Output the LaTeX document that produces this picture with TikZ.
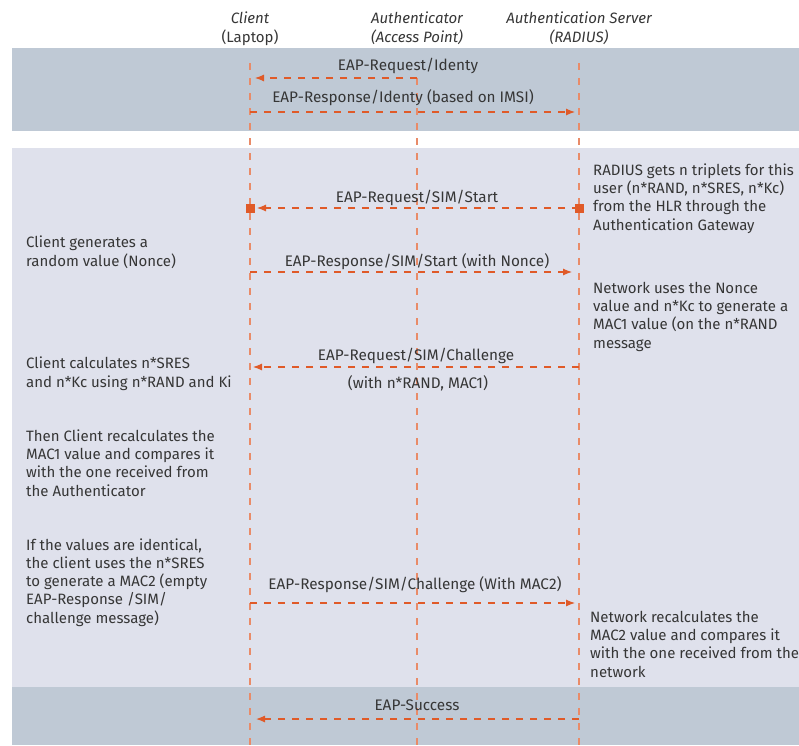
\documentclass[tikz,border=0pt]{standalone}
\usepackage{fontspec}
\setmainfont{Fira Sans}
\usetikzlibrary{arrows.meta}

\definecolor{bandgray}{HTML}{BFC9D5}
\definecolor{bandpale}{HTML}{DFE1EC}
\definecolor{eaporange}{HTML}{E05A28}
\definecolor{textgray}{HTML}{363636}

\tikzset{
	lifeline/.style={draw=eaporange!70, line width=1.3pt, dash pattern=on 7pt off 8pt},
	msg/.style={draw=eaporange, line width=1.1pt, dash pattern=on 7pt off 7pt, -{Latex[length=9pt,width=7pt]}},
	msglabel/.style={font=\fontsize{15.3}{17}\selectfont, text=textgray, inner sep=0pt, anchor=base},
	note/.style={font=\fontsize{15}{18.2}\selectfont, text=textgray, inner sep=0pt, anchor=base west, align=left},
	head/.style={font=\fontsize{15}{17}\selectfont\itshape, text=textgray, inner sep=0pt, anchor=base},
	endsquare/.style={fill=eaporange, minimum size=9pt, inner sep=0pt}
}

\begin{document}
\begin{tikzpicture}[x=1pt, y=-1pt]
	\useasboundingbox (0,0) rectangle (799,745);

	% bands
	\fill[bandgray] (12,48) rectangle (799,131);
	\fill[bandpale] (12,148) rectangle (799,687);
	\fill[bandgray] (12,687) rectangle (799,745);

	% heads
	\node[head] (client) at (250,23) {Client};
	\node[head, font=\fontsize{15}{17}\selectfont] (laptop) at (250,42) {(Laptop)};
	\node[head] (auth) at (417,23) {Authenticator};
	\node[head] (ap) at (417,42) {(Access Point)};
	\node[head] (server) at (579,23) {Authentication Server};
	\node[head] (radius) at (579,42) {(RADIUS)};

	% points on the lifelines
	\foreach \y/\n in {63/top, 78/m1, 112/m2, 208/m3, 272/m4, 367/m5, 603/m6, 719/m7, 745/bot} {
		\coordinate (cl-\n) at (250,\y);
		\coordinate (ap-\n) at (417,\y);
		\coordinate (rs-\n) at (579,\y);
	}

	% lifelines
	\draw[lifeline] (cl-top) -- (cl-bot);
	\draw[lifeline] (ap-m1) -- (ap-bot);
	\draw[lifeline] (rs-top) -- (rs-bot);

	% messages
	\draw[msg, shorten >=5pt] (ap-m1) -- (cl-m1);
	\node[msglabel] at (408,70) {EAP-Request/Identy};

	\draw[msg, shorten >=4pt] (cl-m2) -- (rs-m2);
	\node[msglabel] at (403,102) {EAP-Response/Identy (based on IMSI)};

	\draw[msg, shorten >=7pt] (rs-m3) -- (cl-m3);
	\node[endsquare] (sq1) at (cl-m3) {};
	\node[endsquare] (sq2) at (rs-m3) {};
	\node[msglabel] at (417,202) {EAP-Request/SIM/Start};

	\draw[msg, shorten >=7pt] (cl-m4) -- (rs-m4);
	\node[msglabel] at (417,266) {EAP-Response/SIM/Start (with Nonce)};

	\draw[msg, shorten >=3pt] (rs-m5) -- (cl-m5);
	\node[msglabel] at (416,360) {EAP-Request/SIM/Challenge};
	\node[msglabel] at (418,388) {(with n*RAND, MAC1)};

	\draw[msg, shorten >=4pt] (cl-m6) -- (rs-m6);
	\node[msglabel] at (415,589) {EAP-Response/SIM/Challenge (With MAC2)};

	\draw[msg, shorten >=6pt] (rs-m7) -- (cl-m7);
	\node[msglabel] at (417,710) {EAP-Success};

	% client side notes (placed at the baseline of their last line)
	\node[note] (n1) at (26,266) {Client generates a\\random value (Nonce)};
	\node[note] (n2) at (26,387) {Client calculates n*SRES\\and n*Kc using n*RAND and Ki};
	\node[note] (n3) at (26,496) {Then Client recalculates the\\MAC1 value and compares it\\with the one received from\\the Authenticator};
	\node[note] (n4) at (26,623) {If the values are identical,\\the client uses the n*SRES\\to generate a MAC2 (empty\\EAP-Response /SIM/\\challenge message)};

	% server side notes
	\node[note] (n5) at (593,230) {RADIUS gets n triplets for this\\user (n*RAND, n*SRES, n*Kc)\\from the HLR through the\\Authentication Gateway};
	\node[note] (n6) at (593,348) {Network uses the Nonce\\value and n*Kc to generate a\\MAC1 value (on the n*RAND\\message};
	\node[note] (n7) at (590,677) {Network recalculates the\\MAC2 value and compares it\\with the one received from the\\network};

\end{tikzpicture}
\end{document}
